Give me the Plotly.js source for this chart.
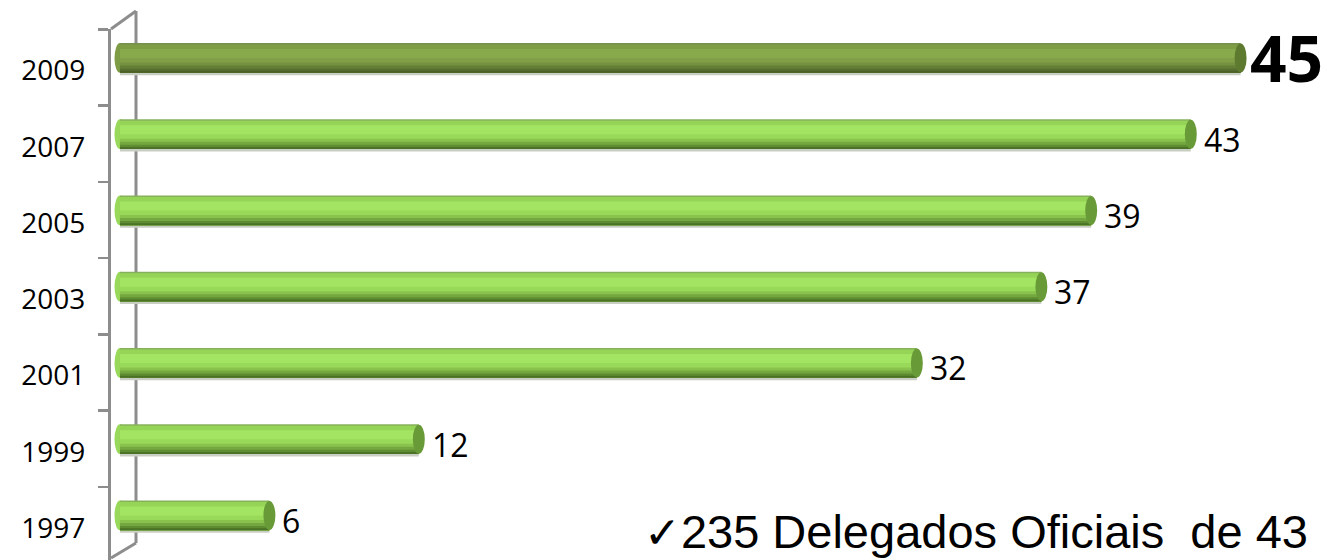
<!DOCTYPE html>
<html>
<head>
<meta charset="utf-8">
<script src="https://cdn.plot.ly/plotly-3.0.1.min.js"></script>
<style>html,body{margin:0;padding:0;background:#fff;}#chart{width:1327px;height:560px;}</style>
</head>
<body>
<div id="chart"></div>
<script>
// ---- data ----
const years = ['1997', '1999', '2001', '2003', '2005', '2007', '2009'];
const delegations = [6, 12, 32, 37, 39, 43, 45];
const highlightYear = '2009';
const noteText = '235 Delegados Oficiais\u00a0 de 43';

// ---- styling (cylinder shading, top -> bottom; each layer runs to the bottom) ----
const bandStops = [0, 0.05, 0.2, 0.5, 0.65, 0.75, 0.85, 0.93];
const lightBands = ['#86b25a', '#96d458', '#a3e563', '#99d95a', '#89c34d', '#74a73f', '#5e8c31', '#4c7227'];
const darkBands  = ['#76904f', '#7f9d45', '#89a94d', '#819f47', '#75913f', '#657f37', '#576f2f', '#4b6128'];
const shadowColor = '#c9cec2';
const capLight = '#699a38', capDark = '#5d7a2f';
const startLight = '#98d85a', startDark = '#7e9b45';

const TOP = 0.32, BOT = -0.07, H = TOP - BOT;

const traces = [];
traces.push({
  type: 'bar', orientation: 'h', x: delegations, y: years,
  offset: BOT - 0.03, width: 0.05,
  marker: { color: shadowColor, line: { width: 0 } }, hoverinfo: 'skip'
});
for (let b = 0; b < lightBands.length; b++) {
  const f0 = bandStops[b];
  traces.push({
    type: 'bar', orientation: 'h',
    x: delegations, y: years,
    offset: BOT, width: (1 - f0) * H,
    marker: { color: years.map(y => y === highlightYear ? darkBands[b] : lightBands[b]), line: { width: 0 } },
    hoverinfo: 'skip'
  });
}

const shapes = [];
years.forEach((y, i) => {
  const hl = y === highlightYear;
  shapes.push({ type: 'circle', xref: 'x', yref: 'y', layer: 'below',
    x0: -0.22, x1: 0.22, y0: i + BOT, y1: i + TOP,
    fillcolor: hl ? startDark : startLight, line: { width: 0 } });
  const v = delegations[i];
  shapes.push({ type: 'circle', xref: 'x', yref: 'y', layer: 'above',
    x0: v - 0.24, x1: v + 0.24, y0: i + BOT + 0.005, y1: i + TOP - 0.005,
    fillcolor: hl ? capDark : capLight, line: { width: 0 } });
});

// wall decorations
const W = 1216, PH = 531;
const px = X => (X - 111) / W;
const py = Y => (560 - Y) / PH;
const wall = { color: '#8d8d8d', width: 3 };
shapes.push({ type: 'line', xref: 'paper', yref: 'paper', layer: 'below', x0: px(136), x1: px(136), y0: py(543), y1: py(11), line: wall });
shapes.push({ type: 'line', xref: 'paper', yref: 'paper', layer: 'below', x0: px(111), x1: px(136), y0: py(29), y1: py(11), line: wall });
shapes.push({ type: 'line', xref: 'paper', yref: 'paper', layer: 'below', x0: px(111), x1: px(136), y0: py(558), y1: py(543), line: wall });

const annotations = years.map((y, i) => {
  const hl = y === highlightYear;
  return {
    x: delegations[i], y: i + (TOP + BOT) / 2, xref: 'x', yref: 'y',
    text: hl ? '<b>' + delegations[i] + '</b>' : String(delegations[i]),
    showarrow: false, xanchor: 'left', yanchor: 'middle',
    xshift: hl ? 7 : 11, yshift: hl ? 0 : -5,
    font: { family: 'Open Sans', size: hl ? 64 : 32, color: '#000' }
  };
});
annotations.push({
  xref: 'paper', yref: 'paper', x: px(1310), y: py(531),
  xanchor: 'right', yanchor: 'middle', showarrow: false,
  text: '<span style="font-family:DejaVu Sans;font-size:44px">\u2713</span>' + noteText,
  font: { family: 'Liberation Sans, Arial, sans-serif', size: 47, color: '#000' }
});

const layout = {
  width: 1327, height: 560,
  margin: { l: 111, r: 0, t: 29, b: 0, pad: 0 },
  paper_bgcolor: '#fff', plot_bgcolor: 'rgba(0,0,0,0)',
  showlegend: false, barmode: 'overlay',
  xaxis: { range: [-0.361, 48.47], visible: false, fixedrange: true },
  yaxis: {
    type: 'category', categoryorder: 'array', categoryarray: years,
    range: [-0.459, 6.505], showline: true, linecolor: '#8d8d8d', linewidth: 3,
    ticks: 'outside', ticklen: 10, tickwidth: 2.5, tickcolor: '#8d8d8d',
    tickson: 'boundaries', showgrid: false, zeroline: false,
    ticklabelstandoff: 17, ticklabelshift: 3,
    tickfont: { family: 'Open Sans', size: 28, color: '#000' }
  },
  shapes: shapes, annotations: annotations
};

Plotly.newPlot('chart', traces, layout, { staticPlot: true, displayModeBar: false });
</script>
</body>
</html>
